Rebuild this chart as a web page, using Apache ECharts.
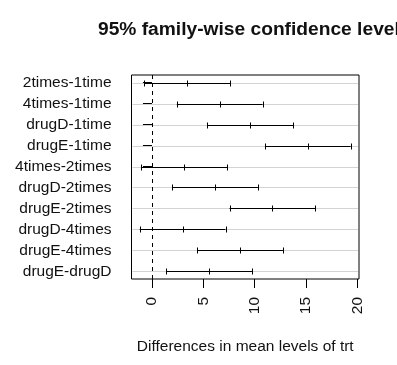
<!DOCTYPE html>
<html>
<head>
<meta charset="utf-8">
<script src="https://cdn.jsdelivr.net/npm/echarts@6/dist/echarts.min.js"></script>
<style>html,body{margin:0;padding:0;background:#fff}#c{width:397px;height:365px}</style>
</head>
<body>
<div id="c"></div>
<script>
const categories = ['2times-1time','4times-1time','drugD-1time','drugE-1time','4times-2times','drugD-2times','drugE-2times','drugD-4times','drugE-4times','drugE-drugD'];
const diff = [3.443, 6.593, 9.579, 15.166, 3.150, 6.136, 11.723, 2.986, 8.573, 5.586];
const lwr  = [-0.730, 2.419, 5.406, 10.993, -1.024, 1.963, 7.549, -1.187, 4.400, 1.413];
const upr  = [7.617, 10.767, 13.753, 19.340, 7.323, 10.310, 15.897, 7.160, 12.747, 9.760];
const xTicks = [0, 5, 10, 15, 20];
const rowPos = categories.map((c, i) => i + 1);

const chart = echarts.init(document.getElementById('c'), null, {renderer: 'canvas'});
const font = 'Liberation Sans, Arial, sans-serif';
const data = categories.map((c, i) => [i + 1, lwr[i], diff[i], upr[i]]);

function px(v) { return Math.round(v) + 0.5; }

chart.setOption({
  animation: false,
  backgroundColor: '#fff',
  title: {
    text: '95% family-wise confidence level',
    left: 93, top: 15,
    textStyle: {fontFamily: font, fontSize: 19.2, fontWeight: 'bold', color: '#111'}
  },
  grid: {left: 131.5, right: 38, top: 75, bottom: 86, show: true, borderColor: '#000', borderWidth: 1, backgroundColor: 'transparent'},
  xAxis: {
    type: 'value', min: -1.99, max: 20.15,
    name: 'Differences in mean levels of trt', nameLocation: 'middle', nameGap: 60,
    nameTextStyle: {fontFamily: font, fontSize: 15.5, color: '#111'},
    axisLine: {show: false},
    axisTick: {show: true, length: 9, customValues: xTicks, lineStyle: {color: '#000'}},
    axisLabel: {customValues: xTicks, rotate: 90, margin: 18, fontFamily: font, fontSize: 15.5, color: '#111'},
    splitLine: {show: false}
  },
  yAxis: {
    type: 'value', inverse: true, min: 0.64, max: 10.36,
    axisLine: {show: false},
    axisTick: {show: true, length: 9, customValues: rowPos, lineStyle: {color: '#000'}},
    axisLabel: {customValues: rowPos, margin: 20, fontFamily: font, fontSize: 15.5, color: '#111',
      formatter: v => categories[Math.round(v) - 1]},
    splitLine: {show: false}
  },
  series: [{
    type: 'custom',
    data: data,
    encode: {x: [1, 2, 3], y: 0},
    renderItem: function (params, api) {
      const y = api.value(0);
      const a = api.coord([api.value(1), y]);
      const m = api.coord([api.value(2), y]);
      const b = api.coord([api.value(3), y]);
      const cs = params.coordSys;
      const yy = px(a[1]);
      const h = 3;
      const st = {stroke: '#000', lineWidth: 1};
      return {
        type: 'group',
        children: [
          {type: 'line', shape: {x1: cs.x + 1, y1: yy, x2: cs.x + cs.width - 1, y2: yy}, style: {stroke: '#d3d3d3', lineWidth: 1}, z2: 0},
          {type: 'line', shape: {x1: a[0], y1: yy, x2: b[0], y2: yy}, style: st, z2: 2},
          {type: 'line', shape: {x1: px(a[0]), y1: yy - h, x2: px(a[0]), y2: yy + h}, style: st, z2: 2},
          {type: 'line', shape: {x1: px(m[0]), y1: yy - h, x2: px(m[0]), y2: yy + h}, style: st, z2: 2},
          {type: 'line', shape: {x1: px(b[0]), y1: yy - h, x2: px(b[0]), y2: yy + h}, style: st, z2: 2}
        ]
      };
    },
    markLine: {
      silent: true, symbol: 'none', label: {show: false},
      lineStyle: {color: '#000', type: [4, 4], width: 1},
      data: [{xAxis: 0}]
    }
  }]
});
</script>
</body>
</html>
